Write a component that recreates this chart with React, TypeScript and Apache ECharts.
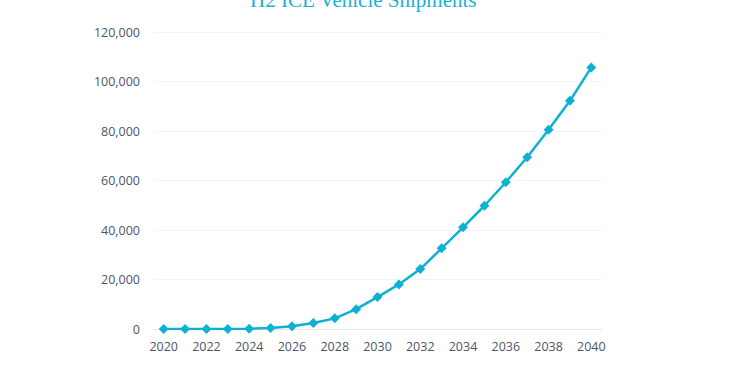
import React, { useEffect, useRef } from "react";
import * as echarts from "echarts";

const years = [
  "2020", "2021", "2022", "2023", "2024", "2025", "2026", "2027", "2028", "2029", "2030",
  "2031", "2032", "2033", "2034", "2035", "2036", "2037", "2038", "2039", "2040",
];
const shipments = [
  0, 0, 0, 0, 100, 400, 1100, 2400, 4300, 8000, 12900,
  18000, 24200, 32600, 41100, 49800, 59300, 69400, 80500, 92200, 105700,
];
const titleText = "H2 ICE Vehicle Shipments";

export default function App() {
  const ref = useRef<HTMLDivElement>(null);
  useEffect(() => {
    if (!ref.current) return;
    const chart = echarts.init(ref.current, undefined, { renderer: "svg" });
    chart.setOption({
      animation: false,
      backgroundColor: "#ffffff",
      title: {
        text: titleText,
        left: 245,
        top: -16,
        textStyle: {
          fontFamily: "Liberation Serif",
          fontWeight: "normal",
          fontSize: 21,
          color: "#1ab0d6",
        },
      },
      grid: { left: 153, right: 148, top: 32, bottom: 46 },
      xAxis: {
        type: "category",
        data: years,
        boundaryGap: true,
        axisLine: { lineStyle: { color: "#e6e8ec" } },
        axisTick: { interval: 0, length: 5, lineStyle: { color: "#e6e8ec" } },
        axisLabel: {
          interval: 1,
          color: "#4d5666",
          fontFamily: "Open Sans",
          fontSize: 12.5,
          margin: 11,
        },
      },
      yAxis: {
        type: "value",
        min: 0,
        max: 120000,
        interval: 20000,
        axisLine: { show: false },
        axisTick: { show: false },
        splitLine: { lineStyle: { color: "#f3f4f6" } },
        axisLabel: {
          color: "#4d5666",
          fontFamily: "Open Sans",
          fontSize: 12.5,
          margin: 13,
          formatter: (v: number) => v.toLocaleString("en-US"),
        },
      },
      series: [
        {
          type: "line",
          data: shipments,
          symbol: "diamond",
          symbolSize: 10,
          lineStyle: { color: "#0fb1d3", width: 2.5 },
          itemStyle: { color: "#0fb1d3" },
        },
      ],
    });
    return () => chart.dispose();
  }, []);
  return <div ref={ref} style={{ width: 750, height: 375, position: "absolute", left: 0, top: 0 }} />;
}
